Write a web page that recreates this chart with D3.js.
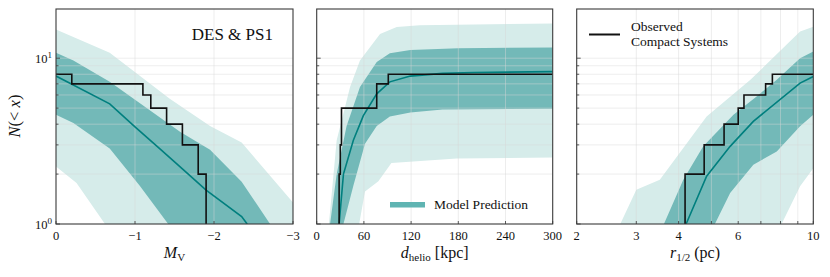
<!DOCTYPE html>
<html>
<head>
<meta charset="utf-8">
<script src="https://cdn.jsdelivr.net/npm/d3@7"></script>
<style>
  body { margin: 0; background: #fff; }
  text { font-family: "Liberation Serif", "DejaVu Serif", serif; fill: #111; }
</style>
</head>
<body>
<script>
// ---- data ----
const yTickValues = [1, 10];
const yMinorValues = [2, 3, 4, 5, 6, 7, 8, 9];

// panel 1: absolute magnitude
const mvTicks = [0, -1, -2, -3];
const mvObsX = [0, -0.2, -1.1, -1.2, -1.4, -1.6, -1.8, -1.9];
const mvObsN = [8, 7, 6, 5, 4, 3, 2, 1];
const mvMedian = [[0, 7.8], [-0.68, 5.3], [-1.0, 3.85], [-1.33, 2.8], [-1.6, 2.15], [-1.9, 1.6], [-2.35, 1.11], [-2.42, 1]];
const mvInnerHi = [[0, 10.8], [-0.22, 9.7], [-0.68, 7.2], [-1.57, 3.6], [-1.95, 2.8], [-2.35, 1.8], [-2.71, 1]];
const mvInnerLo = [[0, 4.56], [-0.22, 4.06], [-0.68, 2.85], [-1.06, 1.7], [-1.42, 1]];
const mvOuterHi = [[0, 14.9], [-0.68, 10.8], [-1.44, 5.7], [-1.95, 3.9], [-2.35, 3.1], [-3, 1.35], [-3, 1]];
const mvOuterLo = [[0, 2.22], [-0.26, 1.77], [-0.62, 1]];

// panel 2: heliocentric distance
const dTicks = [0, 60, 120, 180, 240, 300];
const dObsX = [28.5, 30, 31.5, 76.3, 91];
const dObsN = [2, 3, 5, 7, 8];
const dMedian = [[28.5, 1], [34, 2.0], [46.6, 3.2], [59.3, 4.5], [76.3, 6.1], [93, 7.2], [119, 7.8], [160, 8.1], [200, 8.2], [300, 8.3]];
const dInnerHi = [[17, 1], [25.4, 2.0], [38, 3.9], [55, 6.7], [76.3, 9.5], [93, 10.7], [119, 11.2], [180, 11.5], [300, 11.6]];
const dInnerLo = [[34, 1], [46.6, 1.7], [61.4, 3.05], [76.3, 3.9], [93, 4.45], [119, 4.7], [160, 4.9], [300, 4.95]];
const dOuterHi = [[15.5, 1], [25.4, 3.2], [42.4, 6.7], [55, 9.7], [80.5, 14], [101.7, 15.4], [131, 15.8], [300, 16.2]];
const dOuterLo = [[54, 1], [61.4, 1.57], [78.4, 1.81], [95, 2.33], [178, 2.48], [300, 2.52]];

// panel 3: half-light radius
const rTicks = [2, 3, 4, 6, 10];
const rMinor = [5, 7, 8, 9];
const rObsX = [4.18, 4.76, 5.45, 6.0, 6.24, 7.23, 7.57];
const rObsN = [2, 3, 4, 5, 6, 7, 8];
const rMedian = [[4.21, 1], [4.84, 1.94], [5.68, 2.94], [6.65, 4.16], [9.14, 7.07], [10, 7.76]];
const rInnerHi = [[3.62, 1], [4.13, 1.85], [4.73, 2.94], [5.81, 4.56], [6.8, 5.88], [7.8, 7.4], [9.14, 10], [10, 10.96]];
const rInnerLo = [[5.12, 1], [5.68, 1.54], [6.65, 2.28], [7.8, 2.74], [9.14, 3.88], [10, 4.56]];
const rOuterHi = [[2.69, 1], [3.0, 1.61], [3.52, 1.85], [4.84, 4.45], [6.52, 7.4], [9.14, 14.5], [10, 15.5]];
const rOuterLo = [[8.06, 1], [9.14, 1.69], [10, 2.17]];

// ---- layout ----
const W = 830, H = 277;
const plotTop = 9, plotBottom = 224;
const floorN = 0.5; // below the axis, gets clipped

const outerColor = "#d6ecea", innerColor = "#73b9b8", medianColor = "#007f7e";

const svg = d3.select("body").append("svg").attr("width", W).attr("height", H);

const y = d3.scaleLog().domain([1, 19.8]).range([plotBottom, plotTop]);

const panels = [
  {x: d3.scaleLinear().domain([0, -3]).range([56, 293]), ticks: mvTicks, minor: [],
   fmt: d => d === 0 ? "0" : "\u2212" + Math.abs(d),
   obsX: mvObsX, obsN: mvObsN, median: mvMedian,
   inner: [mvInnerHi, mvInnerLo], outer: [mvOuterHi, mvOuterLo], rising: false},
  {x: d3.scaleLinear().domain([0, 300]).range([316.7, 552.7]), ticks: dTicks, minor: [],
   fmt: d => String(d),
   obsX: dObsX, obsN: dObsN, median: dMedian,
   inner: [dInnerHi, dInnerLo], outer: [dOuterHi, dOuterLo], rising: true},
  {x: d3.scaleLog().domain([2, 10]).range([576.7, 813.3]), ticks: rTicks, minor: rMinor,
   fmt: d => String(d),
   obsX: rObsX, obsN: rObsN, median: rMedian,
   inner: [rInnerHi, rInnerLo], outer: [rOuterHi, rOuterLo], rising: true}
];

panels.forEach((p, i) => {
  const x = p.x;
  const [x0, x1] = x.range();
  const g = svg.append("g");
  const clipId = "clip" + i;
  svg.append("clipPath").attr("id", clipId)
     .append("rect").attr("x", x0).attr("y", plotTop).attr("width", x1 - x0).attr("height", plotBottom - plotTop);
  const plot = g.append("g").attr("clip-path", `url(#${clipId})`);

  const line = d3.line().x(d => x(d[0])).y(d => y(d[1]));
  const band = ([hi, lo]) => line(hi.concat(lo.slice().reverse())) + "Z";

  plot.append("path").attr("d", band(p.outer)).attr("fill", outerColor);
  plot.append("path").attr("d", band(p.inner)).attr("fill", innerColor);

  // grid
  const gridX = p.ticks.concat(p.minor).filter(v => v !== x.domain()[0] && v !== x.domain()[1]);
  plot.selectAll(".gx").data(gridX).enter().append("line")
      .attr("x1", d => x(d)).attr("x2", d => x(d)).attr("y1", plotTop).attr("y2", plotBottom)
      .attr("stroke", "#d8d8d8").attr("stroke-opacity", 0.45).attr("stroke-width", 1);
  plot.selectAll(".gy").data(yMinorValues.concat([10])).enter().append("line")
      .attr("x1", x0).attr("x2", x1).attr("y1", d => y(d)).attr("y2", d => y(d))
      .attr("stroke", "#d8d8d8").attr("stroke-opacity", 0.45).attr("stroke-width", 1);

  plot.append("path").attr("d", line(p.median))
      .attr("fill", "none").attr("stroke", medianColor).attr("stroke-width", 1.6);

  // observed step curve
  let obs = p.obsX.map((v, k) => [v, p.obsN[k]]);
  if (p.rising) {
    obs = [[p.obsX[0], floorN]].concat(obs);
    obs.push([x.domain()[1], p.obsN[p.obsN.length - 1]]);
  }
  plot.append("path").attr("d", d3.line().curve(d3.curveStepAfter).x(d => x(d[0])).y(d => y(d[1]))(obs))
      .attr("fill", "none").attr("stroke", "#111").attr("stroke-width", 1.6);

  // ticks
  g.selectAll(".ty").data(yMinorValues).enter().append("line")
      .attr("x1", x0).attr("x2", x0 + 2.5).attr("y1", d => y(d)).attr("y2", d => y(d))
      .attr("stroke", "#333").attr("stroke-width", 0.8);
  g.selectAll(".tY").data(yTickValues).enter().append("line")
      .attr("x1", x0).attr("x2", x0 + 4).attr("y1", d => y(d)).attr("y2", d => y(d))
      .attr("stroke", "#333").attr("stroke-width", 0.8);
  g.selectAll(".tx").data(p.ticks.concat(p.minor)).enter().append("line")
      .attr("x1", d => x(d)).attr("x2", d => x(d)).attr("y1", plotBottom).attr("y2", plotBottom - 3)
      .attr("stroke", "#333").attr("stroke-width", 0.8);

  g.selectAll(".lx").data(p.ticks).enter().append("text")
      .attr("x", d => x(d)).attr("y", 240).attr("text-anchor", "middle")
      .attr("font-size", 12.5).text(p.fmt);

  // frame
  g.append("rect").attr("x", x0).attr("y", plotTop).attr("width", x1 - x0).attr("height", plotBottom - plotTop)
      .attr("fill", "none").attr("stroke", "#3a3a3a").attr("stroke-width", 1.1);
});

// y tick labels (panel 1 only)
const ax = panels[0].x.range()[0];
yTickValues.forEach(v => {
  const t = svg.append("text").attr("x", ax - 4).attr("y", y(v) + 5).attr("text-anchor", "end").attr("font-size", 12.5);
  t.append("tspan").text("10");
  t.append("tspan").attr("dy", -5).attr("font-size", 9).text(Math.log10(v));
});

// axis titles
const yl = svg.append("text").attr("transform", "translate(20,116) rotate(-90)")
    .attr("text-anchor", "middle").attr("font-size", 16.5);
yl.append("tspan").attr("font-style", "italic").text("N");
yl.append("tspan").text("(< ");
yl.append("tspan").attr("font-style", "italic").text("x");
yl.append("tspan").text(")");

const titleY = 258;
const cx = p => d3.mean(p.x.range());
const t1 = svg.append("text").attr("x", cx(panels[0])).attr("y", titleY).attr("text-anchor", "middle").attr("font-size", 16);
t1.append("tspan").attr("font-style", "italic").text("M");
t1.append("tspan").attr("dy", 3).attr("font-size", 11).text("V");

const t2 = svg.append("text").attr("x", cx(panels[1])).attr("y", titleY).attr("text-anchor", "middle").attr("font-size", 16);
t2.append("tspan").attr("font-style", "italic").text("d");
t2.append("tspan").attr("dy", 3).attr("font-size", 11).text("helio");
t2.append("tspan").attr("dy", -3).text(" [kpc]");

const t3 = svg.append("text").attr("x", cx(panels[2])).attr("y", titleY).attr("text-anchor", "middle").attr("font-size", 16);
t3.append("tspan").attr("font-style", "italic").text("r");
t3.append("tspan").attr("dy", 3).attr("font-size", 11).text("1/2");
t3.append("tspan").attr("dy", -3).text(" (pc)");

// survey label
svg.append("text").attr("x", 273).attr("y", 40).attr("text-anchor", "end").attr("font-size", 17).text("DES & PS1");

// legends
svg.append("rect").attr("x", 390).attr("y", 202).attr("width", 35).attr("height", 5.5).attr("fill", "#5fb4b2");
svg.append("text").attr("x", 434).attr("y", 209).attr("font-size", 13.5).text("Model Prediction");

svg.append("line").attr("x1", 589).attr("x2", 620).attr("y1", 34.5).attr("y2", 34.5).attr("stroke", "#111").attr("stroke-width", 2);
svg.append("text").attr("x", 631).attr("y", 31).attr("font-size", 13.5).text("Observed");
svg.append("text").attr("x", 631).attr("y", 46).attr("font-size", 13.5).text("Compact Systems");
</script>
</body>
</html>
